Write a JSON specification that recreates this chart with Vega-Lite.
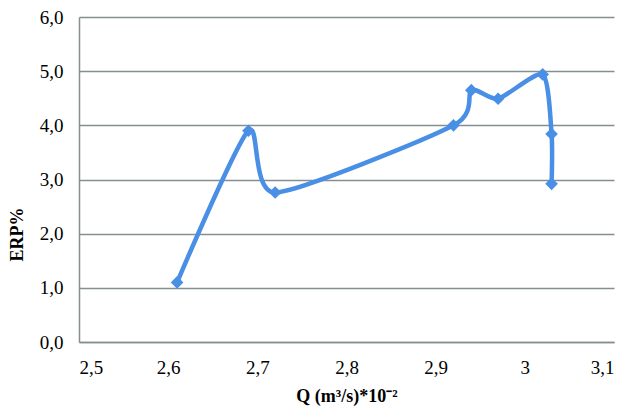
{
  "$schema": "https://vega.github.io/schema/vega-lite/v6.json",
  "width": 535,
  "height": 325,
  "autosize": {"type": "none"},
  "padding": {"left": 79, "top": 17, "right": 26, "bottom": 73},
  "background": "white",
  "config": {
    "view": {"stroke": null},
    "axis": {
      "labelFont": "Liberation Serif",
      "titleFont": "Liberation Serif",
      "labelFontSize": 19,
      "titleFontSize": 18,
      "labelColor": "#000000",
      "titleColor": "#000000",
      "domainColor": "#858f8f",
      "domainWidth": 1.5,
      "gridColor": "#858f8f",
      "gridWidth": 1.5,
      "ticks": false
    }
  },
  "data": {
    "values": [
      {"i": 1, "Q": 2.61, "ERP": 1.1},
      {"i": 2, "Q": 2.69, "ERP": 3.9},
      {"i": 3, "Q": 2.72, "ERP": 2.76},
      {"i": 4, "Q": 2.92, "ERP": 4.0},
      {"i": 5, "Q": 2.94, "ERP": 4.65},
      {"i": 6, "Q": 2.97, "ERP": 4.49},
      {"i": 7, "Q": 3.02, "ERP": 4.94},
      {"i": 8, "Q": 3.03, "ERP": 3.84},
      {"i": 9, "Q": 3.03, "ERP": 2.92}
    ]
  },
  "encoding": {
    "x": {
      "field": "Q",
      "type": "quantitative",
      "scale": {"domain": [2.5, 3.1], "nice": false, "zero": false},
      "axis": {
        "values": [2.5, 2.6, 2.7, 2.8, 2.9, 3.0, 3.1],
        "grid": false,
        "labelPadding": 16,
        "labelExpr": "replace(format(datum.value, '.2~f'), '.', ',')",
        "title": "Q (m³/s)*10⁻²",
        "titlePadding": 10
      }
    },
    "y": {
      "field": "ERP",
      "type": "quantitative",
      "scale": {"domain": [0, 6], "nice": false},
      "axis": {
        "values": [0, 1, 2, 3, 4, 5, 6],
        "grid": true,
        "labelPadding": 16,
        "labelExpr": "replace(format(datum.value, '.1f'), '.', ',')",
        "title": "ERP%",
        "titleBaseline": "middle",
        "titleY": 217,
        "titleX": -62
      }
    },
    "order": {"field": "i", "type": "quantitative"}
  },
  "layer": [
    {
      "mark": {
        "type": "line",
        "interpolate": "cardinal",
        "tension": 0.3,
        "color": "#4a8fe6",
        "strokeWidth": 4.5
      }
    },
    {
      "mark": {
        "type": "point",
        "shape": "diamond",
        "filled": true,
        "opacity": 1,
        "size": 160,
        "color": "#4a8fe6"
      }
    }
  ]
}
